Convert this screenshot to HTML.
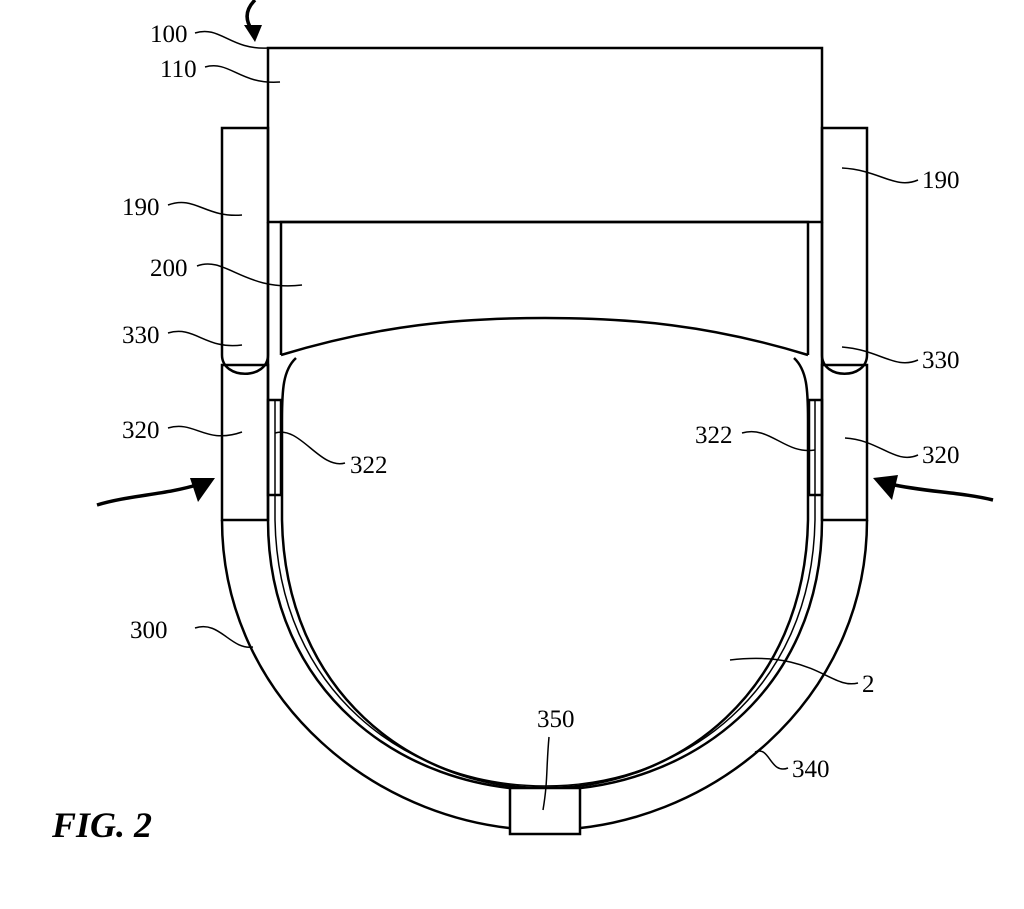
<!DOCTYPE html>
<html><head><style>body{margin:0;background:#fff}svg{display:block}text{font-family:"Liberation Serif",serif;font-size:25px;fill:#000}</style></head><body>
<svg width="1024" height="909" viewBox="0 0 1024 909" fill="none" stroke="#000" stroke-width="2.5">
<rect x="268" y="48" width="554" height="174"/>
<path d="M281,355 V222 H808 V355"/>
<path d="M222,128 H268 V355 C268,380 222,380 222,355 Z"/>
<path d="M822,128 H867 V355 C867,380 822,380 822,355 Z"/>
<rect x="222" y="365" width="46" height="155"/>
<rect x="822" y="365" width="45" height="155"/>
<line x1="268" y1="222" x2="268" y2="520"/><line x1="822" y1="222" x2="822" y2="520"/>
<rect x="268" y="400" width="13" height="95"/>
<rect x="809" y="400" width="13" height="95"/>
<path d="M281,355 C380,325 460,318 545,318 C630,318 710,325 808,355"/>
<path d="M222,520 C222,700 380,830 545,830 C710,830 867,700 867,520"/>
<path d="M268,520 C268,690 400,790 545,790 C690,790 822,690 822,520"/>
<path d="M296,358 C283,370 282,390 282,420 L282,520 C285,690 410,788 545,788 C680,788 805,690 808,520 L808,420 C808,390 807,370 794,358"/>
<path d="M275,400 L275,520 C278,690 405,786 545,786 C685,786 812,690 815,520 L815,400" stroke-width="1.5"/>
<rect x="510" y="788" width="70" height="46" fill="#fff"/>
<g stroke-width="3.5"><path d="M97,505 C130,495 165,495 200,484"/><path d="M993,500 C960,492 925,492 890,484"/><path d="M255,0 C245,10 245,20 252,30"/></g>
<g fill="#000" stroke="none"><path d="M215,478 L190,478 L198,502 Z"/><path d="M873,478 L898,475 L892,500 Z"/><path d="M255,42 L244,25 L262,25 Z"/></g>
<g stroke-width="1.5">
<path d="M195,33 C220,25 230,50 268,48"/><path d="M205,67 C230,60 240,85 280,82"/>
<path d="M168,205 C195,195 205,218 242,215"/><path d="M197,266 C225,255 245,292 302,285"/>
<path d="M168,333 C195,325 205,350 242,345"/><path d="M168,428 C195,420 205,445 242,432"/>
<path d="M275,433 C300,425 320,470 345,463"/>
<path d="M918,180 C895,190 880,170 842,168"/><path d="M918,360 C895,370 880,350 842,347"/>
<path d="M918,455 C895,465 880,440 845,438"/><path d="M742,433 C770,425 785,455 815,450"/>
<path d="M858,683 C830,690 815,650 730,660"/><path d="M788,768 C770,775 770,745 755,752"/>
<path d="M549,737 C546,770 548,780 543,810"/>
<path d="M195,628 C220,620 230,650 253,647"/>
</g>
<g stroke="none">
<text x="150" y="42">100</text><text x="160" y="77">110</text>
<text x="122" y="215">190</text><text x="150" y="276">200</text>
<text x="122" y="343">330</text><text x="122" y="438">320</text>
<text x="350" y="473">322</text><text x="922" y="188">190</text>
<text x="922" y="368">330</text><text x="922" y="463">320</text>
<text x="695" y="443">322</text><text x="862" y="692">2</text>
<text x="792" y="777">340</text><text x="537" y="727">350</text>
<text x="130" y="638">300</text>
<text x="52" y="837" style="font-size:36px;font-weight:bold;font-style:italic">FIG. 2</text>
</g>
</svg>
</body></html>
